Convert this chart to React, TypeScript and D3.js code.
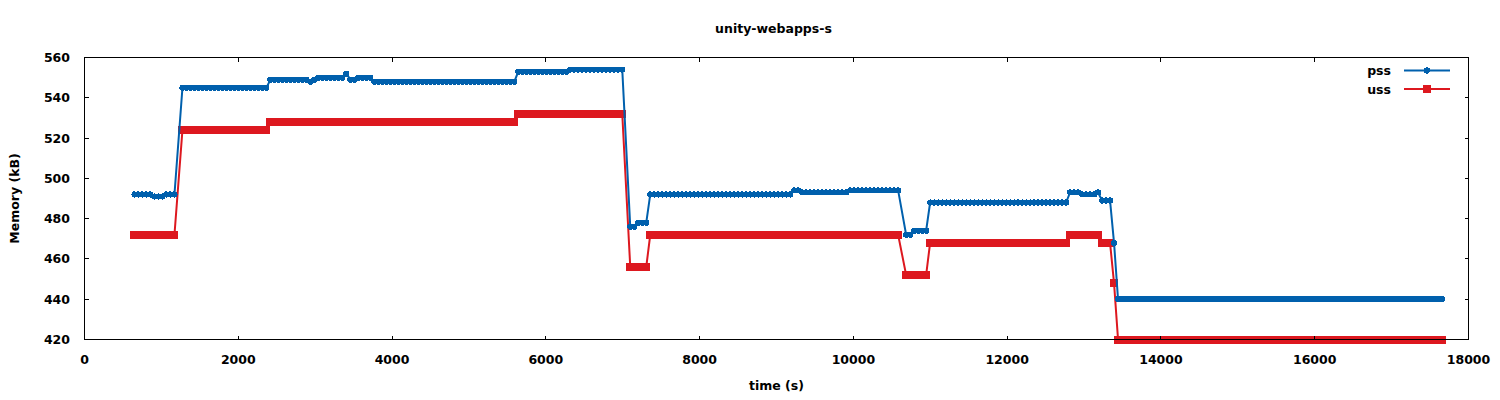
import React from 'react';
import * as d3 from 'd3';

const chartTitle = 'unity-webapps-s';
const xLabel = 'time (s)';
const yLabel = 'Memory (kB)';
const xTicks = [0, 2000, 4000, 6000, 8000, 10000, 12000, 14000, 16000, 18000];
const yTicks = [420, 440, 460, 480, 500, 520, 540, 560];
const seriesNames = ['pss', 'uss'];

// sampling of the memory monitor (seconds)
const sampleStart = 650;
const sampleStep = 52;

// pss samples (kB), null = no sample at that slot
const pssValues: (number | null)[] = [
  492, 492, 492, 492, 492, 491, 491, 491, 492, 492, 492, null, 545, 545, 545, 545, 545, 545, 545, 545,
  545, 545, 545, 545, 545, 545, 545, 545, 545, 545, 545, 545, 545, 545, 549, 549, 549, 549, 549, 549,
  549, 549, 549, 549, 548, 549, 550, 550, 550, 550, 550, 550, 550, 552, 549, 549, 550, 550, 550, 550,
  548, 548, 548, 548, 548, 548, 548, 548, 548, 548, 548, 548, 548, 548, 548, 548, 548, 548, 548, 548,
  548, 548, 548, 548, 548, 548, 548, 548, 548, 548, 548, 548, 548, 548, 548, 548, 553, 553, 553, 553,
  553, 553, 553, 553, 553, 553, 553, 553, 553, 554, 554, 554, 554, 554, 554, 554, 554, 554, 554, 554,
  554, 554, 554, null, 476, 476, 478, 478, 478, 492, 492, 492, 492, 492, 492, 492, 492, 492, 492, 492,
  492, 492, 492, 492, 492, 492, 492, 492, 492, 492, 492, 492, 492, 492, 492, 492, 492, 492, 492, 492,
  492, 492, 492, 492, 492, 494, 494, 493, 493, 493, 493, 493, 493, 493, 493, 493, 493, 493, 493, 494,
  494, 494, 494, 494, 494, 494, 494, 494, 494, 494, 494, 494, null, 472, 472, 474, 474, 474, 474, 488,
  488, 488, 488, 488, 488, 488, 488, 488, 488, 488, 488, 488, 488, 488, 488, 488, 488, 488, 488, 488,
  488, 488, 488, 488, 488, 488, 488, 488, 488, 488, 488, 488, 488, 488, 493, 493, 493, 492, 492, 492,
  492, 493, 489, 489, 489, 468, 440, 440, 440, 440, 440, 440, 440, 440, 440, 440, 440, 440, 440, 440,
  440, 440, 440, 440, 440, 440, 440, 440, 440, 440, 440, 440, 440, 440, 440, 440, 440, 440, 440, 440,
  440, 440, 440, 440, 440, 440, 440, 440, 440, 440, 440, 440, 440, 440, 440, 440, 440, 440, 440, 440,
  440, 440, 440, 440, 440, 440, 440, 440, 440, 440, 440, 440, 440, 440, 440, 440, 440, 440, 440, 440,
  440, 440, 440, 440, 440, 440, 440, 440,
];

// uss samples (kB)
const ussValues: (number | null)[] = [
  472, 472, 472, 472, 472, 472, 472, 472, 472, 472, 472, null, 524, 524, 524, 524, 524, 524, 524, 524,
  524, 524, 524, 524, 524, 524, 524, 524, 524, 524, 524, 524, 524, 524, 528, 528, 528, 528, 528, 528,
  528, 528, 528, 528, 528, 528, 528, 528, 528, 528, 528, 528, 528, 528, 528, 528, 528, 528, 528, 528,
  528, 528, 528, 528, 528, 528, 528, 528, 528, 528, 528, 528, 528, 528, 528, 528, 528, 528, 528, 528,
  528, 528, 528, 528, 528, 528, 528, 528, 528, 528, 528, 528, 528, 528, 528, 528, 532, 532, 532, 532,
  532, 532, 532, 532, 532, 532, 532, 532, 532, 532, 532, 532, 532, 532, 532, 532, 532, 532, 532, 532,
  532, 532, 532, null, 456, 456, 456, 456, 456, 472, 472, 472, 472, 472, 472, 472, 472, 472, 472, 472,
  472, 472, 472, 472, 472, 472, 472, 472, 472, 472, 472, 472, 472, 472, 472, 472, 472, 472, 472, 472,
  472, 472, 472, 472, 472, 472, 472, 472, 472, 472, 472, 472, 472, 472, 472, 472, 472, 472, 472, 472,
  472, 472, 472, 472, 472, 472, 472, 472, 472, 472, 472, 472, null, 452, 452, 452, 452, 452, 452, 468,
  468, 468, 468, 468, 468, 468, 468, 468, 468, 468, 468, 468, 468, 468, 468, 468, 468, 468, 468, 468,
  468, 468, 468, 468, 468, 468, 468, 468, 468, 468, 468, 468, 468, 468, 472, 472, 472, 472, 472, 472,
  472, 472, 468, 468, 468, 448, 420, 420, 420, 420, 420, 420, 420, 420, 420, 420, 420, 420, 420, 420,
  420, 420, 420, 420, 420, 420, 420, 420, 420, 420, 420, 420, 420, 420, 420, 420, 420, 420, 420, 420,
  420, 420, 420, 420, 420, 420, 420, 420, 420, 420, 420, 420, 420, 420, 420, 420, 420, 420, 420, 420,
  420, 420, 420, 420, 420, 420, 420, 420, 420, 420, 420, 420, 420, 420, 420, 420, 420, 420, 420, 420,
  420, 420, 420, 420, 420, 420, 420, 420,
];

const PSS_COLOR = '#0060ad';
const USS_COLOR = '#dd181f';
const FONT = "'DejaVu Sans', sans-serif";

const W = 1500;
const H = 400;
const LEFT = 84.5;
const RIGHT = 1468.5;
const TOP = 57.5;
const BOTTOM = 339.5;
const TICK = 4;
const FS = 12.5;

type Pt = [number, number];

function toPoints(vals: (number | null)[]): Pt[] {
  const out: Pt[] = [];
  vals.forEach((v, i) => {
    if (v != null) out.push([sampleStart + i * sampleStep, v]);
  });
  return out;
}

export default function App() {
  const x = d3.scaleLinear().domain([0, 18000]).range([LEFT, RIGHT]);
  const y = d3.scaleLinear().domain([420, 560]).range([BOTTOM, TOP]);
  const line = d3.line<Pt>().x((d) => x(d[0])).y((d) => y(d[1]));

  const pss = toPoints(pssValues);
  const uss = toPoints(ussValues);

  const legendY = [70.5, 89];
  const legX1 = 1404;
  const legX2 = 1450;
  const legMid = 1427;

  return (
    <svg
      width={W}
      height={H}
      style={{ position: 'absolute', left: 0, top: 0, background: '#fff' }}
      fontFamily={FONT}
      fontWeight="bold"
    >
      <rect x={0} y={0} width={W} height={H} fill="#fff" />
      <text x={(LEFT + RIGHT) / 2 - 3} y={28} fontSize={FS} textAnchor="middle" dominantBaseline="central" fill="#000">
        {chartTitle}
      </text>

      {/* uss series */}
      <path d={line(uss) || ''} fill="none" stroke={USS_COLOR} strokeWidth={2} />
      <g fill={USS_COLOR} shapeRendering="crispEdges">
        {uss.map((d, i) => (
          <rect key={i} x={x(d[0]) - 4} y={y(d[1]) - 4} width={8} height={8} />
        ))}
      </g>

      {/* pss series */}
      <path d={line(pss) || ''} fill="none" stroke={PSS_COLOR} strokeWidth={2} />
      <g fill={PSS_COLOR} shapeRendering="crispEdges">
        {pss.map((d, i) => (
          <circle key={i} cx={x(d[0])} cy={y(d[1])} r={3.1} />
        ))}
      </g>

      {/* border and ticks */}
      <g stroke="#000" strokeWidth={1} shapeRendering="crispEdges" fill="none">
        <rect x={LEFT} y={TOP} width={RIGHT - LEFT} height={BOTTOM - TOP} />
        {xTicks.map((t) => (
          <g key={'xt' + t}>
            <line x1={x(t)} x2={x(t)} y1={BOTTOM} y2={BOTTOM - TICK} />
            <line x1={x(t)} x2={x(t)} y1={TOP} y2={TOP + TICK} />
          </g>
        ))}
        {yTicks.map((t) => (
          <g key={'yt' + t}>
            <line x1={LEFT} x2={LEFT + TICK} y1={y(t)} y2={y(t)} />
            <line x1={RIGHT} x2={RIGHT - TICK} y1={y(t)} y2={y(t)} />
          </g>
        ))}
      </g>

      {/* tick labels */}
      <g fontSize={FS} fill="#000">
        {xTicks.map((t) => (
          <text key={'xl' + t} x={x(t)} y={359} textAnchor="middle" dominantBaseline="central">
            {t}
          </text>
        ))}
        {yTicks.map((t) => (
          <text key={'yl' + t} x={70} y={y(t)} textAnchor="end" dominantBaseline="central">
            {t}
          </text>
        ))}
      </g>

      {/* axis labels */}
      <text x={(LEFT + RIGHT) / 2} y={385} fontSize={FS} textAnchor="middle" dominantBaseline="central" fill="#000">
        {xLabel}
      </text>
      <text
        transform={`translate(14,${(TOP + BOTTOM) / 2}) rotate(-90)`}
        fontSize={FS}
        textAnchor="middle"
        dominantBaseline="central"
        fill="#000"
      >
        {yLabel}
      </text>

      {/* legend */}
      <g fontSize={FS} fill="#000">
        <text x={1391} y={legendY[0]} textAnchor="end" dominantBaseline="central">
          {seriesNames[0]}
        </text>
        <line x1={legX1} x2={legX2} y1={legendY[0]} y2={legendY[0]} stroke={PSS_COLOR} strokeWidth={2} />
        <circle cx={legMid} cy={legendY[0]} r={3.1} fill={PSS_COLOR} shapeRendering="crispEdges" />
        <text x={1391} y={legendY[1]} textAnchor="end" dominantBaseline="central">
          {seriesNames[1]}
        </text>
        <line x1={legX1} x2={legX2} y1={legendY[1]} y2={legendY[1]} stroke={USS_COLOR} strokeWidth={2} />
        <rect x={legMid - 4} y={legendY[1] - 4} width={8} height={8} fill={USS_COLOR} shapeRendering="crispEdges" />
      </g>
    </svg>
  );
}
